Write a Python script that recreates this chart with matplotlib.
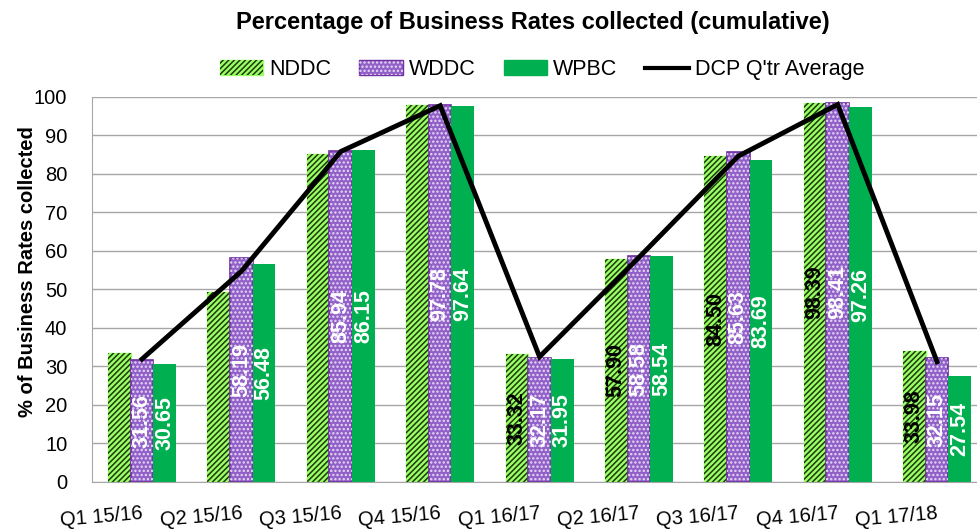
import matplotlib
matplotlib.use("Agg")
import matplotlib.pyplot as plt
from matplotlib.patches import Patch
from matplotlib.lines import Line2D
from matplotlib.legend_handler import HandlerTuple
import numpy as np

plt.rcParams['font.family'] = ['Liberation Sans', 'DejaVu Sans']
plt.rcParams['hatch.linewidth'] = 1.1

# data
quarters = ['Q1 15/16', 'Q2 15/16', 'Q3 15/16', 'Q4 15/16', 'Q1 16/17',
            'Q2 16/17', 'Q3 16/17', 'Q4 16/17', 'Q1 17/18']
nddc = [33.6, 49.4, 85.2, 97.8, 33.32, 57.90, 84.50, 98.39, 33.98]
wddc = [31.56, 58.19, 85.94, 97.78, 32.17, 58.58, 85.63, 98.41, 32.15]
wpbc = [30.65, 56.48, 86.15, 97.64, 31.95, 58.54, 83.69, 97.26, 27.54]
dcp_avg = [31.9, 54.7, 85.8, 97.7, 32.5, 58.3, 84.6, 98.0, 31.2]
# NDDC only labelled from Q1 16/17 on
nddc_labelled = [False, False, False, False, True, True, True, True, True]

green_light = '#99FF66'
purple_edge = '#7030A0'
purple_face = '#9160C8'
green = '#00B050'
hatch_dark = '#1f3a0a'

fig = plt.figure(figsize=(9.77, 5.29), dpi=100)
ax = fig.add_axes([0.0945, 0.089, 0.9155, 0.728])

x = np.arange(len(quarters))
w = 0.228

# NDDC: light green with dark diagonal hatch
ax.bar(x - w, nddc, w, color=green_light, edgecolor=green_light, lw=1, zorder=2)
ax.bar(x - w, nddc, w, facecolor='none', edgecolor=hatch_dark, hatch='//////', lw=0, zorder=2)
# WDDC: purple with white dots
ax.bar(x, wddc, w, color=purple_face, edgecolor=purple_edge, lw=1.2, zorder=2)
ax.bar(x, wddc, w, facecolor='none', edgecolor='#e8dcf5', hatch='....', lw=0, zorder=2)
# WPBC: solid green
ax.bar(x + w, wpbc, w, color=green, edgecolor=green, lw=0, zorder=2)

ax.plot(x, dcp_avg, color='black', lw=3.5, zorder=3, solid_joinstyle='miter')

lab_kw = dict(rotation=90, ha='center', va='center', fontsize=15.5, fontweight='bold', zorder=4)
for i in range(len(quarters)):
    if nddc_labelled[i]:
        ax.text(x[i] - w, nddc[i] / 2, f'{nddc[i]:.2f}', color='black', **lab_kw)
    ax.text(x[i], wddc[i] / 2, f'{wddc[i]:.2f}', color='white', **lab_kw)
    ax.text(x[i] + w, wpbc[i] / 2, f'{wpbc[i]:.2f}', color='white', **lab_kw)

ax.set_xlim(-0.5, 8.5)
ax.set_ylim(0, 100)
ax.set_yticks(range(0, 101, 10))
ax.yaxis.grid(True, color='#A6A6A6', lw=1)
ax.set_axisbelow(True)
for s in ['top', 'right']:
    ax.spines[s].set_visible(False)
for s in ['left', 'bottom']:
    ax.spines[s].set_color('#A6A6A6')
ax.tick_params(axis='y', length=0, labelsize=14.5, pad=18)
ax.tick_params(axis='x', length=0, labelsize=14.5, pad=16)
ax.set_xticks(x)
ax.set_xticklabels(quarters, rotation=5, ha='right', rotation_mode='anchor')

ax.set_ylabel('% of Business Rates collected', fontsize=14.5, fontweight='bold')
ax.yaxis.set_label_coords(-0.062, 0.545)

fig.text(0.545, 0.958, 'Percentage of Business Rates collected (cumulative)',
         ha='center', va='center', fontsize=17, fontweight='bold')

handles = [
    (Patch(facecolor=green_light, edgecolor=green_light),
     Patch(facecolor='none', edgecolor=hatch_dark, hatch='//////', lw=0)),
    (Patch(facecolor=purple_face, edgecolor=purple_edge),
     Patch(facecolor='none', edgecolor='#e8dcf5', hatch='....', lw=0)),
    Patch(facecolor=green, edgecolor=green),
    Line2D([0], [0], color='black', lw=3),
]
fig.legend(handles, ['NDDC', 'WDDC', 'WPBC', "DCP Q'tr Average"],
           handler_map={tuple: HandlerTuple(ndivide=1)},
           loc='center', bbox_to_anchor=(0.555, 0.868), ncol=4, frameon=False,
           fontsize=15.5, handlelength=2.0, handleheight=0.7, columnspacing=1.3,
           handletextpad=0.3)

fig.savefig('out.png', dpi=100)
